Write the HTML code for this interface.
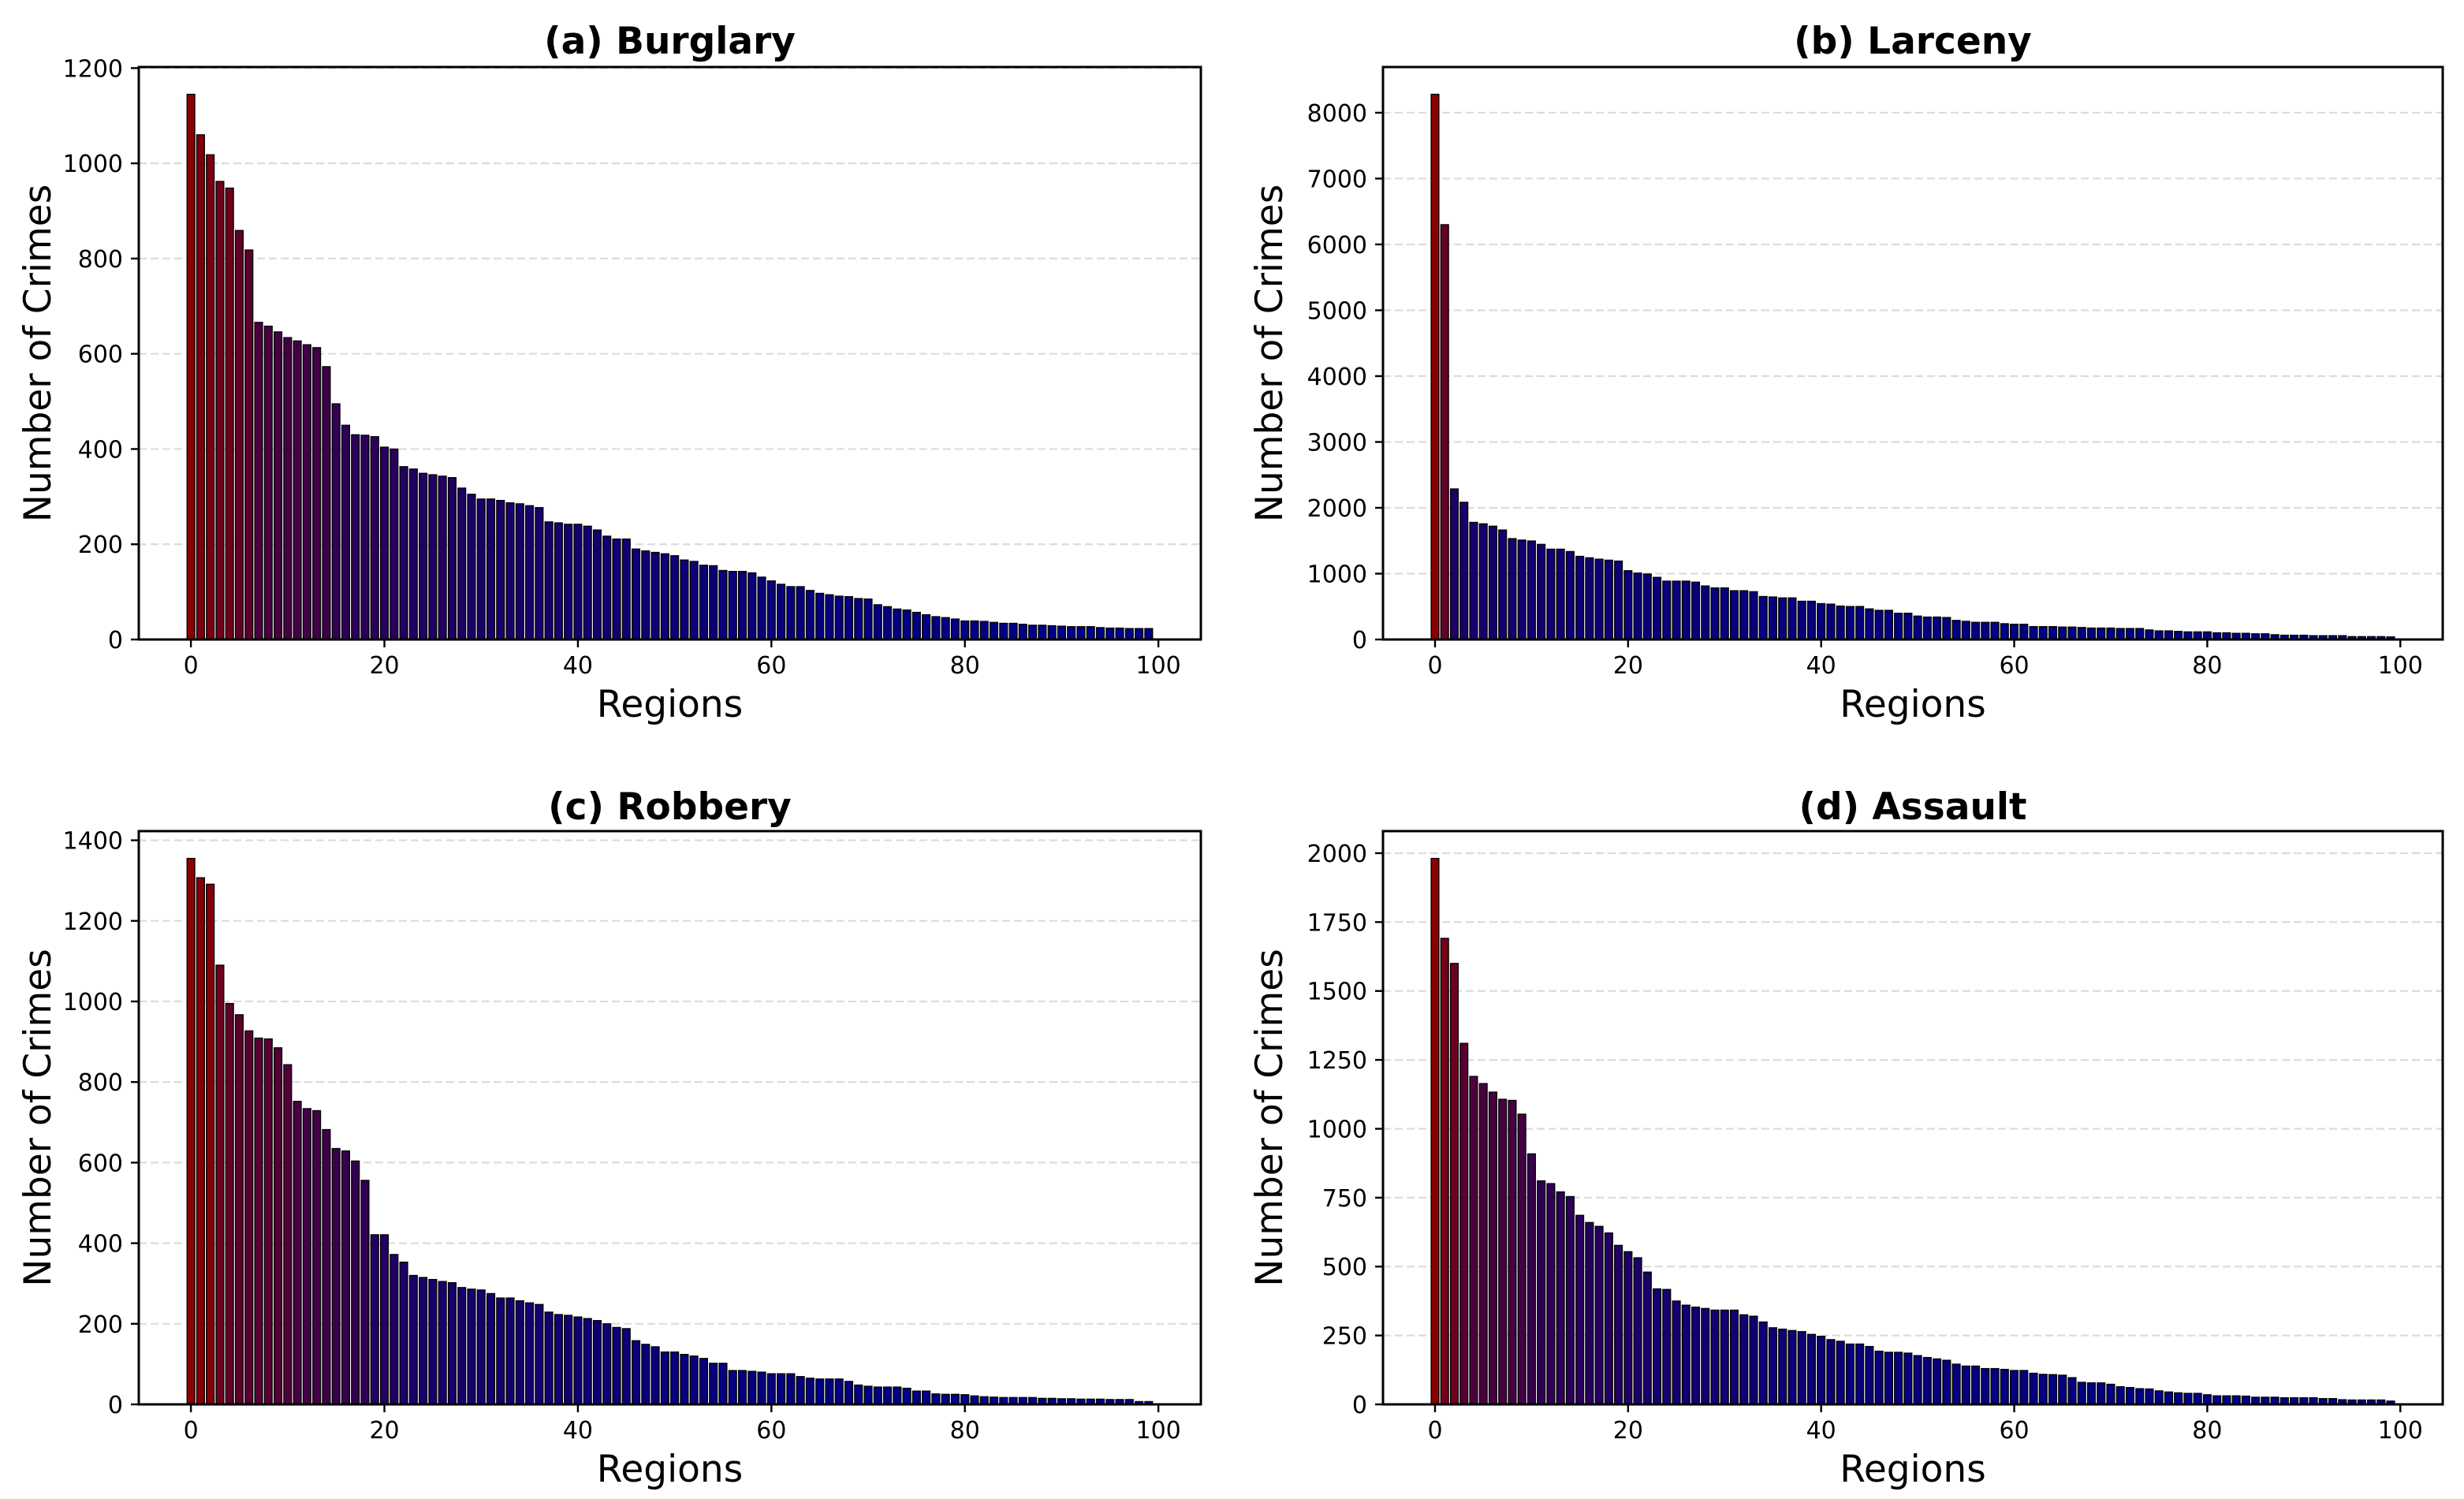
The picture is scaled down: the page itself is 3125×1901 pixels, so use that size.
<!DOCTYPE html>
<html><head><meta charset="utf-8"><style>
html,body{margin:0;padding:0;background:#fff;}
svg{display:block;font-family:"DejaVu Sans","Liberation Sans",sans-serif;}
</style></head><body>
<svg id="fig" width="3125" height="1901" viewBox="0 0 3125 1901" xmlns="http://www.w3.org/2000/svg"></svg>
<script>
const regions = Array.from({length:100},(_,i)=>i);
const burglary = [1145,1060,1018,962,948,859,818,666,658,646,634,627,619,613,573,495,450,430,429,426,404,400,363,358,349,346,343,340,318,305,295,295,292,287,285,281,277,247,245,242,242,238,230,217,211,211,190,186,183,180,176,167,164,156,155,145,143,143,140,131,123,116,111,111,103,97,94,91,90,86,85,73,69,64,62,57,52,48,46,43,39,39,38,36,34,34,32,30,30,29,28,27,27,27,25,24,24,23,23,23];
const larceny = [8280,6300,2287,2084,1779,1757,1721,1663,1532,1510,1496,1445,1372,1372,1336,1263,1241,1220,1205,1191,1045,1009,995,944,886,886,886,871,813,784,784,741,741,726,653,646,632,632,581,581,545,537,508,501,501,465,443,443,399,399,356,341,341,334,290,276,261,261,261,240,232,232,196,196,196,189,189,182,174,174,174,167,167,167,145,131,131,123,116,116,116,102,102,94,94,87,87,73,65,65,65,58,58,58,58,44,44,44,44,40];
const robbery = [1355,1307,1291,1090,995,967,927,909,907,885,843,752,734,729,682,635,629,604,556,421,421,372,353,320,315,310,305,302,290,286,284,275,264,264,257,252,248,229,223,221,217,213,208,200,191,188,158,149,143,130,130,124,120,114,102,102,84,84,82,80,76,76,76,69,65,63,63,63,57,48,45,43,43,43,40,33,33,26,25,25,24,21,19,18,17,17,17,17,15,15,14,14,13,13,13,12,12,12,7,7];
const assault = [1981,1691,1600,1310,1190,1164,1133,1107,1103,1053,909,811,801,771,754,686,660,646,622,577,554,532,480,419,417,375,360,353,348,342,342,342,325,320,299,278,273,268,264,254,247,235,229,219,219,210,193,189,189,186,177,170,165,160,146,139,139,130,130,127,123,123,113,109,108,106,97,80,78,78,73,64,61,57,56,49,45,42,40,40,35,31,31,31,30,26,26,26,24,24,24,24,21,21,17,16,16,16,16,12];
const xTicks = [0,20,40,60,80,100];
const yTicksA = [0,200,400,600,800,1000,1200];
const yTicksB = [0,1000,2000,3000,4000,5000,6000,7000,8000];
const yTicksC = [0,200,400,600,800,1000,1200,1400];
const yTicksD = [0,250,500,750,1000,1250,1500,1750,2000];
const titles = ["(a) Burglary","(b) Larceny","(c) Robbery","(d) Assault"];

const NS="http://www.w3.org/2000/svg";
const fig=document.getElementById('fig');
function mk(tag,attrs,parent){const e=document.createElementNS(NS,tag);for(const k in attrs)e.setAttribute(k,attrs[k]);(parent||fig).appendChild(e);return e;}

function panel(idx,data,yTicks,L,R,T,B,titleY,slug){
  const g=mk('g',{});
  
  
  const xmin=-5.39,xmax=104.39;
  const ymax=Math.max(...data)*1.05;
  const xs=v=>L+(v-xmin)/(xmax-xmin)*(R-L);
  const ys=v=>B-(v/ymax)*(B-T);
  yTicks.forEach(t=>{
    if(t===0)return;
    const ln=mk('line',{x1:L,x2:R,y1:ys(t),y2:ys(t),stroke:'#dcdcdc','stroke-width':2.2,'stroke-dasharray':'10,5'},g);
    
    
  });
  const mx=Math.max(...data),mn=Math.min(...data);
  const bw=0.8*(R-L)/(xmax-xmin);
  data.forEach((v,i)=>{
    const f=(v-mn)/(mx-mn);
    const r=Math.round(139*Math.pow(f,1.15)),b=Math.round(136*Math.pow(1-f,0.9));
    const x=xs(regions[i])-bw/2,y=ys(v);
    const rc=mk('rect',{x:x,y:y,width:bw,height:B-y,fill:`rgb(${r},0,${b})`,stroke:'#000','stroke-width':1.3},g);
    
    
  });
  const fr=mk('rect',{x:L,y:T,width:R-L,height:B-T,fill:'none',stroke:'#000','stroke-width':3},g);
  
  
  xTicks.forEach(t=>{
    const x=xs(t);
    mk('line',{x1:x,x2:x,y1:B,y2:B+10,stroke:'#000','stroke-width':2.4},g);
    const tx=mk('text',{x:x,y:B+43,'font-size':30,'text-anchor':'middle',fill:'#000'},g);
    tx.textContent=t;
    
    
  });
  yTicks.forEach(t=>{
    const y=ys(t);
    mk('line',{x1:L-10,x2:L,y1:y,y2:y,stroke:'#000','stroke-width':2.4},g);
    const tx=mk('text',{x:L-20,y:y+11,'font-size':30,'text-anchor':'end',fill:'#000'},g);
    tx.textContent=t;
    
    
  });
  const ti=mk('text',{x:(L+R)/2,y:titleY,'font-size':47,'font-weight':'bold','text-anchor':'middle',fill:'#000'},g);
  ti.textContent=titles[idx];
  
  
  const xl=mk('text',{x:(L+R)/2,y:B+98,'font-size':47,'text-anchor':'middle',fill:'#000'},g);
  xl.textContent='Regions';
  
  
  const cy=(T+B)/2, lx=L-(idx%2===0?112:128);
  const yl=mk('text',{x:lx,y:cy,'font-size':47,'text-anchor':'middle',fill:'#000',transform:`rotate(-90 ${lx} ${cy})`},g);
  yl.textContent='Number of Crimes';
  
  
}
panel(0,burglary,yTicksA,176,1523,85,811,68,'burglary');
panel(1,larceny,yTicksB,1754,3098,85,811,68,'larceny');
panel(2,robbery,yTicksC,176,1523,1054,1781,1039,'robbery');
panel(3,assault,yTicksD,1754,3098,1054,1781,1039,'assault');
</script>
</body></html>
